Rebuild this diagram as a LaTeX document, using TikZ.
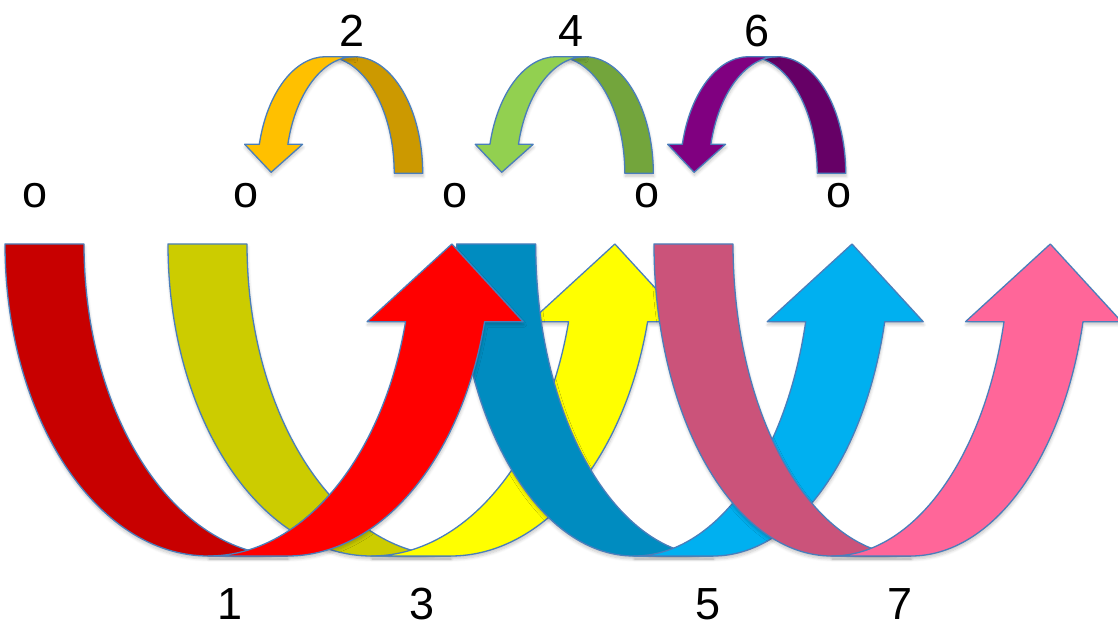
\documentclass[tikz,border=0pt]{standalone}
\usepackage{fontspec}
\setmainfont{Liberation Sans}
\usetikzlibrary{shadows.blur}
\definecolor{edgeblue}{RGB}{74,126,187}
\definecolor{reddark}{RGB}{200,0,0}
\definecolor{redlight}{RGB}{255,0,0}
\definecolor{yellowdark}{RGB}{204,204,0}
\definecolor{yellowlight}{RGB}{255,255,0}
\definecolor{bluedark}{RGB}{0,140,192}
\definecolor{bluelight}{RGB}{0,176,240}
\definecolor{pinkdark}{RGB}{203,83,122}
\definecolor{pinklight}{RGB}{255,102,153}
\definecolor{golddark}{RGB}{204,153,0}
\definecolor{goldlight}{RGB}{255,192,0}
\definecolor{greendark}{RGB}{115,165,60}
\definecolor{greenlight}{RGB}{146,208,80}
\definecolor{purpledark}{RGB}{102,0,102}
\definecolor{purplelight}{RGB}{128,0,128}

% big U arrow: #1 left edge, #2 x radius, #3 dark arm, #4 light arm
\newcommand{\bigbend}[4]{%
  \pgfmathsetmacro{\innc}{#1+#2}
  \pgfmathsetmacro{\outc}{#1+#2+79}
  \pgfmathsetmacro{\hdx}{#2*cos(14.42)}
  \draw[band, fill=#3] (#1,383) arc[start angle=180, end angle=270, x radius=#2, y radius=312]
    -- (\outc,71) arc[start angle=270, end angle=180, x radius=#2, y radius=312] -- cycle;
  \draw[band, fill=#4] (\innc,71) arc[start angle=270, end angle=345.58, x radius=#2, y radius=312]
    -- ++(-38.5,0) -- (\innc+\hdx+46.3,383) -- (\outc+\hdx+38.5,305.3) -- (\outc+\hdx,305.3)
    arc[start angle=345.58, end angle=270, x radius=#2, y radius=312] -- cycle;
}

% small arch arrow: #1 right foot, #2 dark arm, #3 light arm
\newcommand{\smallbend}[3]{%
  \pgfmathsetmacro{\innc}{#1-68.5}
  \pgfmathsetmacro{\outc}{#1-97}
  \draw[band, fill=#2] (#1,453.7) arc[start angle=0, end angle=90, x radius=68.5, y radius=116.6]
    -- (\outc,570.3) arc[start angle=90, end angle=0, x radius=68.5, y radius=116.6] -- cycle;
  \draw[band, fill=#3] (\innc,570.3) arc[start angle=90, end angle=165.6, x radius=68.5, y radius=116.6]
    -- ++(14.7,0) -- (\innc-83.1,454.7) -- (\outc-81.05,482.7) -- (\outc-66.35,482.7)
    arc[start angle=165.6, end angle=90, x radius=68.5, y radius=116.6] -- cycle;
}

\begin{document}
\begin{tikzpicture}[x=1pt, y=1pt,
    band/.style={draw=edgeblue, line width=1.3pt, line join=round,
      blur shadow={shadow xshift=0.5pt, shadow yshift=-3pt, shadow blur radius=3pt,
        shadow blur steps=6, shadow opacity=22}},
    lbl/.style={font=\fontsize{45}{54}\selectfont, inner sep=0pt, anchor=base}
  ]
  \useasboundingbox (0,0) rectangle (1118,627);

  % big arrows
  \bigbend{168}{203.5}{yellowdark}{yellowlight}
  \bigbend{456.7}{177.3}{bluedark}{bluelight}
  \bigbend{654}{177.8}{pinkdark}{pinklight}
  \bigbend{5}{203.5}{reddark}{redlight}

  % small arrows
  \smallbend{422.7}{golddark}{goldlight}
  \smallbend{653.3}{greendark}{greenlight}
  \smallbend{845.7}{purpledark}{purplelight}

  % labels
  \node[lbl] (o1) at (35,419) {o};
  \node[lbl] (o2) at (246,419) {o};
  \node[lbl] (o3) at (455,419) {o};
  \node[lbl] (o4) at (647,419) {o};
  \node[lbl] (o5) at (839,419) {o};
  \node[lbl] (n2) at (352,580) {2};
  \node[lbl] (n4) at (571,580) {4};
  \node[lbl] (n6) at (757,580) {6};
  \node[lbl] (n1) at (230,8) {1};
  \node[lbl] (n3) at (422,8) {3};
  \node[lbl] (n5) at (708,8) {5};
  \node[lbl] (n7) at (900,8) {7};
\end{tikzpicture}
\end{document}
